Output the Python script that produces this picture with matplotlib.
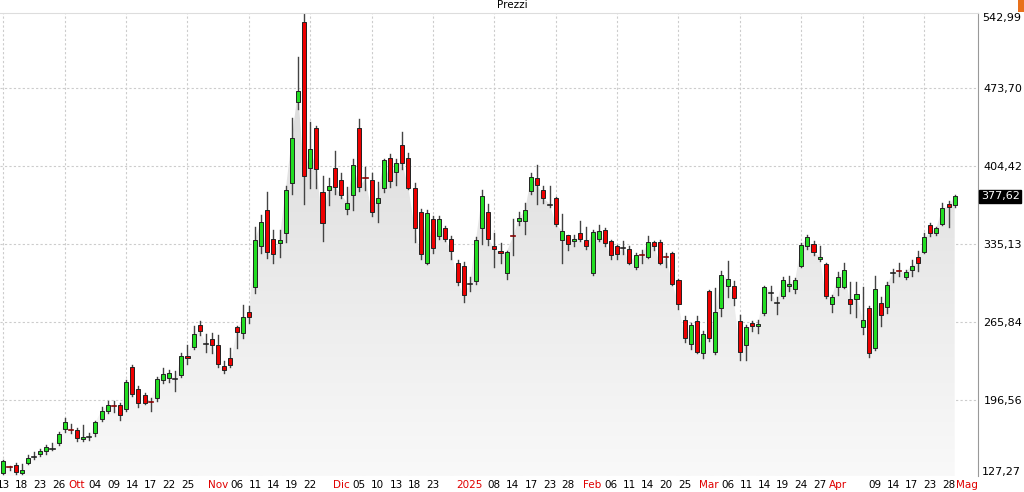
import numpy as np
import pandas as pd
import matplotlib
matplotlib.use("Agg")
import matplotlib.pyplot as plt
from matplotlib.patches import Rectangle

# ---------------- data ----------------
opens = [131.5, 137, 139, 132, 141, 146, 149, 151, 153, 158,
         171, 170, 170, 162, 163.5, 167, 180, 187, 191, 192,
         189, 226, 206, 201, 194.5, 198, 214, 216, 215, 219,
         236, 244, 263, 246, 251, 245, 227, 234, 261, 256,
         275, 297, 333, 365, 340, 336, 345, 389, 461, 532,
         403, 438, 381, 383, 403, 392, 366, 379, 438, 394,
         392, 372, 385, 412, 399, 423, 412, 385, 364, 318,
         357, 342, 349, 340, 318, 316, 300, 302, 349, 364,
         333, 329, 309, 342, 356, 356, 382, 394, 383, 370,
         376, 339, 343, 338, 345, 339, 309, 340, 348, 338,
         333, 332, 331, 315, 325, 324, 337, 337, 324, 327,
         303, 268, 246, 267, 238, 293, 239, 278, 298, 298,
         267, 245, 265, 262, 274, 292, 283, 289, 298, 295,
         316, 333, 335, 322, 317, 282, 297, 297, 286, 286,
         261, 278, 243, 283, 279, 309, 311, 306, 312, 324,
         328, 352, 345, 353, 371, 370]
closes = [142.5, 136, 133, 134, 145, 146.5, 151, 155, 153.5, 166,
          177, 169.5, 163, 164, 164, 177, 187, 192, 190, 183,
          213, 202, 194, 194, 194, 215, 220, 221, 215, 236,
          234, 255, 258, 247, 245, 229, 223, 228, 257, 270,
          270, 339, 355, 328, 326, 339, 383, 429, 471, 396,
          420, 402, 354, 387, 386, 379, 372, 405, 386, 393,
          364, 376, 410, 391, 407, 407, 385, 349, 326, 363,
          332, 357, 340, 329, 301, 290, 300, 339, 378, 340,
          331, 327, 328, 341, 358, 365, 395, 388, 376, 371,
          353, 347, 335, 340, 340, 333, 346, 347, 336, 325,
          326, 332, 318, 325, 324, 337, 333, 318, 323, 300,
          282, 252, 263, 239, 255, 252, 275, 308, 304, 287,
          239, 261, 262, 264, 297, 293, 283, 303, 300, 303,
          334, 341, 328, 324, 289, 288, 306, 312, 282, 291,
          268, 238, 295, 272, 299, 310, 310, 310, 316, 318,
          341, 345, 349, 367, 368, 377.62]
highs = [143, 138, 141, 140, 148, 150, 153, 157, 158, 168,
         181, 175, 172, 174, 167, 178, 190, 196, 196, 194,
         214, 228, 209, 203, 198, 217, 225, 223, 222, 238,
         245, 262, 267, 255, 256, 254, 231, 243, 262, 281,
         280, 350, 361, 381, 348, 348, 387, 447, 501, 540,
         444, 440, 396, 394, 418, 398, 386, 411, 446, 404,
         398, 390, 411, 415, 411, 435, 416, 389, 366, 365,
         360, 360, 351, 342, 321, 319, 306, 341, 383, 371,
         345, 336, 329, 357, 364, 372, 398, 405, 387, 387,
         377, 362, 343, 343, 356, 350, 348, 352, 349, 339,
         334, 338, 333, 327, 330, 342, 338, 339, 327, 328,
         304, 271, 265, 271, 258, 294, 296, 311, 320, 302,
         272, 263, 267, 268, 298, 298, 288, 306, 307, 305,
         336, 343, 338, 333, 318, 290, 310, 318, 301, 301,
         297, 280, 307, 288, 301, 313, 318, 312, 321, 329,
         345, 354, 350, 372, 373, 379]
lows = [131, 134, 131, 131, 140, 144, 147, 149, 152, 157,
        168, 167, 160, 160, 161, 165, 178, 185, 186, 179,
        187, 200, 190, 193, 187, 196, 212, 213, 205, 217,
        229, 242, 254, 239, 238, 226, 221, 226, 243, 252,
        265, 292, 327, 323, 318, 324, 337, 380, 455, 371,
        385, 385, 338, 370, 380, 376, 362, 365, 382, 383,
        360, 355, 381, 386, 388, 402, 384, 337, 322, 317,
        327, 340, 338, 322, 299, 284, 293, 300, 335, 334,
        315, 318, 304, 325, 352, 344, 380, 371, 372, 368,
        351, 318, 330, 333, 338, 331, 308, 338, 333, 322,
        322, 326, 317, 313, 318, 323, 330, 317, 315, 299,
        277, 248, 242, 238, 234, 249, 237, 271, 288, 281,
        232, 232, 258, 256, 272, 285, 273, 287, 293, 292,
        315, 331, 325, 320, 287, 275, 290, 296, 274, 270,
        255, 235, 241, 262, 274, 301, 307, 304, 307, 311,
        327, 342, 343, 352, 350, 368]

holidays = ["2024-11-28", "2024-12-25", "2025-01-01", "2025-01-09",
            "2025-01-20", "2025-02-17", "2025-04-18"]
tick_dates = ["2024-09-13", "2024-09-18", "2024-09-23", "2024-09-26",
              "2024-10-01", "2024-10-04", "2024-10-09", "2024-10-14", "2024-10-17", "2024-10-22", "2024-10-25",
              "2024-11-01", "2024-11-06", "2024-11-11", "2024-11-14", "2024-11-19", "2024-11-22",
              "2024-12-02", "2024-12-05", "2024-12-10", "2024-12-13", "2024-12-18", "2024-12-23",
              "2025-01-02", "2025-01-08", "2025-01-14", "2025-01-17", "2025-01-23", "2025-01-28",
              "2025-02-03", "2025-02-06", "2025-02-11", "2025-02-14", "2025-02-20", "2025-02-25",
              "2025-03-03", "2025-03-06", "2025-03-11", "2025-03-14", "2025-03-19", "2025-03-24", "2025-03-27",
              "2025-04-01", "2025-04-09", "2025-04-14", "2025-04-17", "2025-04-23", "2025-04-28",
              "2025-05-01"]
month_names = {1: "2025", 2: "Feb", 3: "Mar", 4: "Apr", 5: "Mag",
               10: "Ott", 11: "Nov", 12: "Dic"}
y_levels = [127.27, 196.56, 265.84, 335.13, 404.42, 473.70, 542.99]
last_price = 377.62

# ---------------- calendar ----------------
days = pd.bdate_range("2024-09-13", "2025-05-02")
days = days[~days.isin(pd.to_datetime(holidays))]
day_idx = {d: i for i, d in enumerate(days)}
x = np.arange(len(opens))

tick_pos, tick_lab, tick_col = [], [], []
prev_month = None
for s in tick_dates:
    d = pd.Timestamp(s)
    tick_pos.append(day_idx[d])
    if d.month != prev_month and d.month in month_names and s != "2024-09-13":
        tick_lab.append(month_names[d.month])
        tick_col.append("#e00000")
    else:
        tick_lab.append("%02d" % d.day if d.day >= 10 else "%02d" % d.day)
        tick_col.append("black")
    prev_month = d.month

# ---------------- figure ----------------
fig = plt.figure(figsize=(10.24, 4.92), dpi=100)
ax = fig.add_axes([0.0, 1 - 476 / 492, 978 / 1024, (476 - 13) / 492])
ybot, ytop = 129.05, 540.4
ax.set_xlim(-0.55, 158.8)
ax.set_ylim(ybot, ytop)

# gradient area under closes
poly = ax.fill_between(x, closes, ybot, color="none", lw=0)
grad = np.linspace(0, 1, 256).reshape(-1, 1)
img = ax.imshow(grad, extent=[-0.55, 158.8, ybot, ytop], origin="lower",
                cmap=matplotlib.colors.LinearSegmentedColormap.from_list("g", ["#f9f9f9", "#d6d6d6"]),
                aspect="auto", zorder=1)
img.set_clip_path(poly.get_paths()[0], transform=ax.transData)

# grid
for v in y_levels[1:-1]:
    ax.axhline(v, color="#cccccc", lw=0.8, ls=(0, (2, 2)), zorder=0.5)
for v in range(0, 159, 10):
    ax.axvline(v, color="#cccccc", lw=0.8, ls=(0, (2, 2)), zorder=0.5)

# candles
w = 0.66
for i in x:
    o, c, h, l = opens[i], closes[i], highs[i], lows[i]
    ax.plot([i, i], [l, h], color="#444444", lw=1.0, zorder=2)
    col = "#22dd22" if c >= o else "#ee0000"
    bh = abs(c - o)
    if bh < 1.2:
        ax.plot([i - w / 2, i + w / 2], [o, o], color="#222222" if c >= o else "#880000", lw=1.2, zorder=3)
    else:
        ax.add_patch(Rectangle((i - w / 2, min(o, c)), w, bh, facecolor=col,
                               edgecolor="#222222", lw=0.7, zorder=3))

# axes decoration
for sp in ["left", "bottom"]:
    ax.spines[sp].set_visible(False)
ax.spines["right"].set_color("#999999")
ax.spines["top"].set_color("#dddddd")
ax.set_xticks(tick_pos)
ax.set_xticklabels(tick_lab, fontsize=7.5)
for t, c in zip(ax.get_xticklabels(), tick_col):
    t.set_color(c)
ax.tick_params(axis="x", length=0, pad=3)
ax.yaxis.tick_right()
ax.set_yticks(y_levels[1:-1])
ax.set_yticklabels([("%.2f" % v).replace(".", ",") for v in y_levels[1:-1]], fontsize=8)
ax.tick_params(axis="y", length=0, pad=4)
# extreme levels are clamped inside the plot area
ax.text(1.004, 1 - 5 / 463, ("%.2f" % y_levels[-1]).replace(".", ","), transform=ax.transAxes,
        fontsize=8, va="center", ha="left")
ax.text(1.004, 4 / 463, ("%.2f" % y_levels[0]).replace(".", ","), transform=ax.transAxes,
        fontsize=8, va="center", ha="left")
ax.text(1.003, last_price, ("%.2f" % last_price).replace(".", ","), transform=ax.get_yaxis_transform(),
        fontsize=8, va="center", ha="left", color="white",
        bbox=dict(boxstyle="square,pad=0.15", fc="black", ec="black"))

fig.text(0.5, 1 - 5 / 492, "Prezzi", fontsize=7.5, ha="center", va="center")
fig.patches.append(Rectangle((1018 / 1024, 1 - 12 / 492), 8 / 1024, 12 / 492, transform=fig.transFigure,
                             facecolor="#e8701a", edgecolor="none"))

fig.savefig("out.png", dpi=100, facecolor="white")
